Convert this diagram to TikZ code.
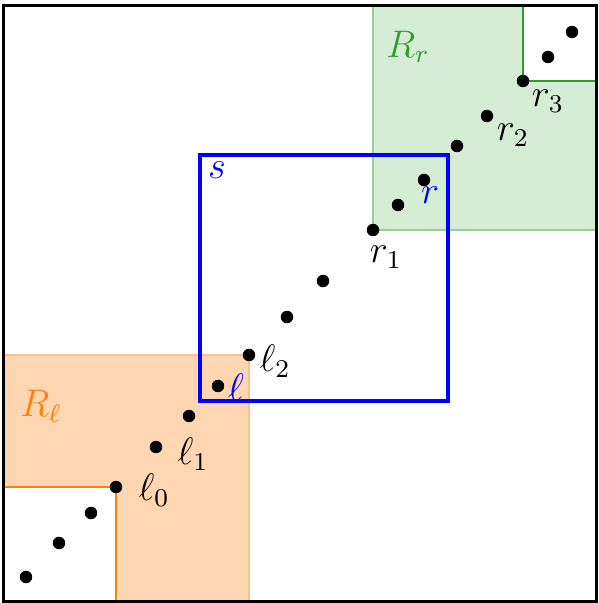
\documentclass[tikz,border=0pt]{standalone}
\definecolor{tor}{RGB}{255,127,14}
\definecolor{tgr}{RGB}{44,160,44}
\definecolor{bl}{RGB}{0,0,255}
\tikzset{
  dot/.style={circle,fill=black,inner sep=0pt,minimum size=3.9pt},
  lab/.style={inner sep=0pt,font=\large},
  frame/.style={draw=black,line width=1.05pt},
  regor/.style={fill=tor!32,draw=tor!50,line width=0.75pt},
  reggr/.style={fill=tgr!20,draw=tgr!50,line width=0.75pt},
  edgeor/.style={draw=tor,line width=0.85pt},
  edgegr/.style={draw=tgr,line width=0.85pt},
  sbox/.style={draw=bl,line width=1.0pt}
}
\begin{document}
\begin{tikzpicture}[x=0.3125pt,y=-0.3125pt]
\useasboundingbox (0,0) rectangle (598,603);
% points
\coordinate (a1) at (26,577);
\coordinate (a2) at (59,543);
\coordinate (a3) at (91,513);
\coordinate (l0) at (116,487);
\coordinate (l1) at (156,447);
\coordinate (a6) at (189,416);
\coordinate (lb) at (218,386);
\coordinate (l2) at (249,355);
\coordinate (a9) at (287,317);
\coordinate (a10) at (323,281);
\coordinate (r1) at (373,230);
\coordinate (a12) at (398,205);
\coordinate (rb) at (424,180);
\coordinate (a14) at (457,146);
\coordinate (r2) at (487,116);
\coordinate (r3) at (523,81);
\coordinate (a17) at (548,57);
\coordinate (a18) at (572,32);
\coordinate (fbl) at (3.5,601.5);
\coordinate (ftr) at (596.5,5.5);
% orange region
\path[regor] (fbl) rectangle (l2);
\path[fill=white] (fbl) rectangle (l0);
\draw[edgeor] (fbl -| l0) -- (l0) -- (l0 -| fbl);
% green region
\path[reggr] (r1) rectangle (ftr);
\path[fill=white] (r3) rectangle (ftr);
\draw[edgegr] (ftr |- r3) -- (r3) -- (r3 |- ftr);
% blue box s
\draw[sbox] (200,401) rectangle (448,155);
% frame
\draw[frame] (fbl) rectangle (ftr);
% dots
\foreach \p in {a1,a2,a3,l0,l1,a6,lb,l2,a9,a10,r1,a12,rb,a14,r2,r3,a17,a18}
  \node[dot] (d\p) at (\p) {};
% labels
\node[lab] (tl0) at (154,490) {$\ell_0$};
\node[lab] (tl1) at (193,454) {$\ell_1$};
\node[lab] (tl2) at (275,361) {$\ell_2$};
\node[lab,text=bl] (tlb) at (236,387) {$\ell$};
\node[lab] (tr1) at (386,257) {$r_1$};
\node[lab,text=bl] (trb) at (430,195) {$r$};
\node[lab] (tr2) at (513,135) {$r_2$};
\node[lab] (tr3) at (548,101) {$r_3$};
\node[lab,text=tor] (tRl) at (41,406) {$R_\ell$};
\node[lab,text=tgr] (tRr) at (408,47) {$R_r$};
\node[lab,text=bl] (ts) at (217,170) {$s$};
\end{tikzpicture}
\end{document}
